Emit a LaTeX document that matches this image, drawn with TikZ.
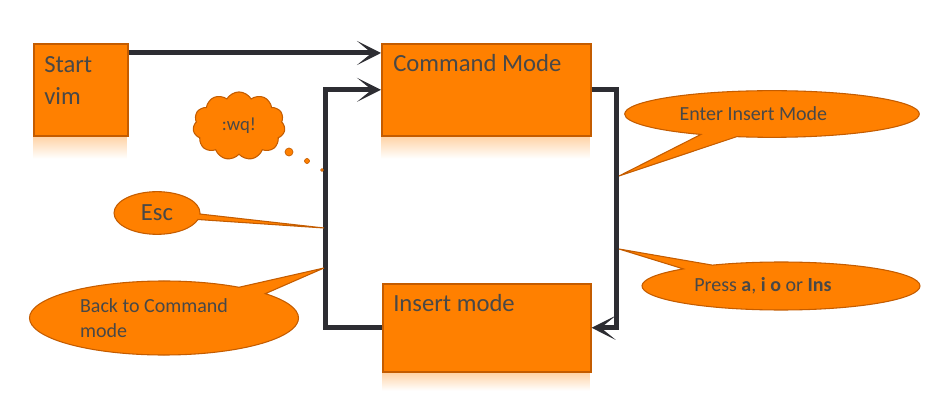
\documentclass[tikz,border=0pt]{standalone}
\usepackage{fontspec}
\setmainfont{Carlito}
\usetikzlibrary{arrows.meta,shapes.callouts,shapes.symbols,positioning,fadings}
\definecolor{vimorange}{RGB}{255,128,0}
\definecolor{vimedge}{RGB}{196,92,0}
\definecolor{vimtext}{RGB}{72,72,72}
\definecolor{vimline}{RGB}{45,45,50}
\begin{document}
\begin{tikzpicture}[x=0.75pt,y=-0.75pt,
    box/.style={draw=vimedge,fill=vimorange,line width=1.2pt,inner sep=0pt,anchor=north west},
    boxtext/.style={text=vimtext,font=\fontsize{18.5}{24}\selectfont,align=left,inner sep=0pt},
    glow/.style={fill=vimorange!35,path fading=south},
    flow/.style={draw=vimline,line width=3.75pt,-{Stealth[length=18pt,width=18pt,inset=11pt]}},
    bubble/.style={draw=vimedge,fill=vimorange,line width=0.8pt,text=vimtext,font=\fontsize{15}{19}\selectfont}]
  \useasboundingbox (0,0) rectangle (950,406);
  % the three boxes
  \node[box,minimum width=70.5pt,minimum height=69pt,
    label={[boxtext,anchor=base west,xshift=8.25pt,yshift=-46.5pt]north west:{Start\\vim}}] (start) at (33,43) {};
  \node[box,minimum width=156.75pt,minimum height=69pt,
    label={[boxtext,anchor=base west,xshift=9pt,yshift=-21.75pt]north west:Command Mode}] (cmd) at (381,43) {};
  \node[box,minimum width=156pt,minimum height=66pt,
    label={[boxtext,anchor=base west,xshift=8.25pt,yshift=-21pt]north west:Insert mode}] (ins) at (382,283) {};
  % faint reflections
  \fill[glow] (start.south west) rectangle ++(94,22);
  \fill[glow] (cmd.south west) rectangle ++(209,22);
  \fill[glow] (ins.south west) rectangle ++(208,18);
  % connectors
  \draw[flow] ([yshift=-7.5pt]start.north east) -- ([yshift=-7.5pt]cmd.north west);
  \draw[flow] (ins.west) -- ++(-57,0) |- (cmd.west);
  \draw[flow] (cmd.east) -- ++(25,0) |- (ins.east);
  % points the callouts point at
  \coordinate (escpt) at (324,228);
  \coordinate (backpt) at (324,268);
  \coordinate (enterpt) at (619,176);
  \coordinate (presspt) at (619,249);
  % callouts
  \node[bubble,cloud,cloud puffs=11,cloud puff arc=120,minimum width=69pt,minimum height=39pt,
    font=\fontsize{14}{17}\selectfont] (wq) at (239,126) {:wq!};
  \fill[vimorange,draw=vimedge,line width=0.5pt] (289,152) circle (4) (307,161) circle (2.5) (322,170) circle (1.5);
  \node[bubble,ellipse callout,minimum width=64.5pt,minimum height=32pt,
    callout absolute pointer={(escpt)},font=\fontsize{18.5}{22}\selectfont] (esc) at (157,213) {Esc};
  \node[bubble,ellipse callout,minimum width=201.75pt,minimum height=55.5pt,align=left,
    callout absolute pointer={(backpt)}] (back) at (164,318) {\hspace*{-15pt}Back to Command\\\hspace*{-15pt}mode};
  \node[bubble,ellipse callout,minimum width=221pt,minimum height=35pt,
    callout absolute pointer={(enterpt)}] (enter) at (772,114) {\hspace*{-28pt}Enter Insert Mode};
  \node[bubble,ellipse callout,minimum width=208.5pt,minimum height=36pt,
    callout absolute pointer={(presspt)}] (press) at (781,286) {\hspace*{-27pt}Press \textbf{a}, \textbf{i o} or \textbf{Ins}};
\end{tikzpicture}
\end{document}
